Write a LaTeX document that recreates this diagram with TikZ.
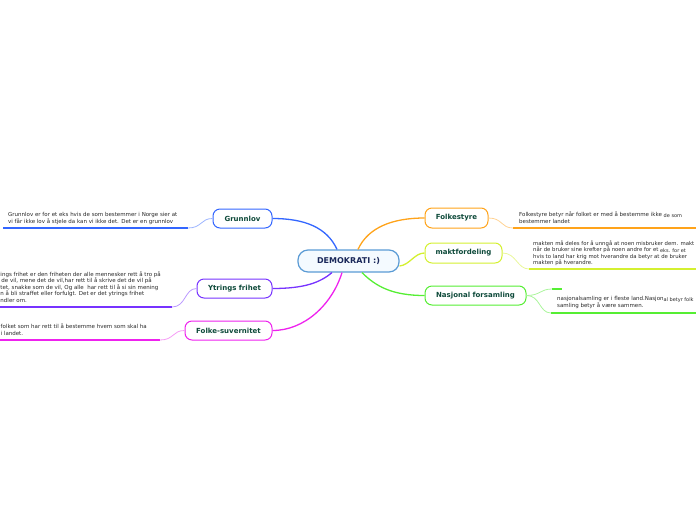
\documentclass[tikz,border=0pt]{standalone}
\usepackage{fontspec}
\setmainfont{DejaVu Sans}
\definecolor{cblue}{RGB}{51,102,255}
\definecolor{cbluel}{RGB}{157,181,255}
\definecolor{cpurp}{RGB}{119,51,255}
\definecolor{cpurpl}{RGB}{187,153,255}
\definecolor{cmag}{RGB}{238,34,238}
\definecolor{cmagl}{RGB}{245,156,245}
\definecolor{corange}{RGB}{255,163,26}
\definecolor{corangel}{RGB}{255,211,148}
\definecolor{cyel}{RGB}{212,240,48}
\definecolor{cyell}{RGB}{233,247,154}
\definecolor{cgreen}{RGB}{85,238,51}
\definecolor{cgreenl}{RGB}{171,245,156}
\definecolor{ccent}{RGB}{91,155,213}
\definecolor{ctopic}{RGB}{14,74,58}
\definecolor{cnote}{RGB}{40,40,40}
\tikzset{
  topic/.style={draw, line width=1pt, rounded corners=7pt, fill=white, inner sep=0pt,
    font=\fontsize{7}{8}\selectfont\bfseries, text=ctopic, minimum height=19pt},
  central/.style={draw=ccent, line width=1.2pt, rounded corners=10pt, fill={rgb,255:red,244;green,250;blue,255},
    inner sep=0pt, font=\fontsize{8}{9}\selectfont\bfseries, text={rgb,255:red,26;green,40;blue,90},
    minimum width=101pt, minimum height=22pt},
  note/.style={anchor=north west, inner sep=0pt, align=left, text=cnote,
    font=\fontsize{5.5}{6.6}\selectfont},
  branch/.style={line width=1.3pt},
  twig/.style={line width=0.8pt},
  uline/.style={line width=2pt},
}
\newcommand{\smt}[1]{{\fontsize{5}{6.6}\selectfont\raisebox{-0.5pt}{#1}}}
\begin{document}
\begin{tikzpicture}[x=1pt,y=-1pt]
\clip (0,0) rectangle (696,520);
\useasboundingbox (0,0) rectangle (696,520);

% central
\node[central] (c) at (348.5,261) {DEMOKRATI :)};

% topics
\node[topic, draw=cblue, minimum width=59pt] (g) at (242.5,218.5) {Grunnlov};
\node[topic, draw=cpurp, minimum width=75pt] (y) at (234.5,288.5) {Ytrings frihet};
\node[topic, draw=cmag, minimum width=87pt] (fs) at (228.5,330.5) {Folke-suvernitet};
\node[topic, draw=corange, minimum width=63pt, minimum height=20pt] (f) at (456.5,218) {Folkestyre};
\node[topic, draw=cyel, minimum width=77pt, minimum height=20pt] (m) at (463.5,253) {maktfordeling};
\node[topic, draw=cgreen, minimum width=101pt] (n) at (475.5,295.5) {Nasjonal forsamling};

% branches from centre
\draw[branch, cblue] ([xshift=-11.5pt]c.north) .. controls +(-10,-22) and +(32,0) .. (g.east);
\draw[branch, corange] ([xshift=9.5pt]c.north) .. controls +(10,-22) and +(-32,0) .. (f.west);
\draw[branch, cyel] ([yshift=-5pt]c.east) .. controls +(10,-1) and +(-10,0) .. (m.west);
\draw[branch, cgreen] ([xshift=13.5pt]c.south) .. controls +(14,14) and +(-32,0) .. (n.west);
\draw[branch, cpurp] ([xshift=-16.5pt]c.south) .. controls +(-12,10) and +(32,0) .. (y.east);
\draw[branch, cmag] ([xshift=-6.5pt]c.south) .. controls +(-10,32) and +(32,0) .. (fs.east);

% Grunnlov note
\coordinate (gl) at (3,228);
\coordinate (gr) at (188,228);
\draw[uline, draw=cblue] (gl) -- (gr);
\draw[twig, draw=cbluel] (gr) .. controls +(14,0) and +(-12,0) .. (g.west);
\node[note] (gt) at (8,212.3) {Grunnlov er for et eks hvis de som bestemmer i Norge sier at\\vi får ikke lov å stjele da kan vi ikke det. Det er en grunnlov};

% Ytrings note
\coordinate (yl) at (0,307);
\coordinate (yr) at (172,307);
\draw[uline, draw=cpurp] (yl) -- (yr);
\draw[twig, draw=cpurpl] (yr) .. controls +(14,0) and +(-12,0) .. (y.west);
\node[note] (yt) at (0.3,271) {ings frihet er den friheten der alle mennesker rett å tro på\\
\,de vil, mene det de vil,har rett til å skrive det de vil på\\
tet, snakke som de vil, Og alle\ \ har rett til å si sin mening\\
n å bli straffet eller forfulgt. Det er det ytrings frihet\\
ndler om.};

% Folke-suvernitet note
\coordinate (fsl) at (0,340);
\coordinate (fsr) at (160,340);
\draw[uline, draw=cmag] (fsl) -- (fsr);
\draw[twig, draw=cmagl] (fsr) .. controls +(14,0) and +(-12,0) .. (fs.west);
\node[note] (fst) at (0.5,323.7) {folket som har rett til å bestemme hvem som skal ha\\i landet.};

% Folkestyre note
\coordinate (fl) at (513,228);
\coordinate (fr) at (696,228);
\draw[uline, draw=corange] (fl) -- (fr);
\draw[twig, draw=corangel] (f.east) .. controls +(14,0) and +(-12,0) .. (fl);
\node[note] (ft) at (519,211.5) {Folkestyre betyr når folket er med å bestemme ikke \smt{de som}\\bestemmer landet};

% maktfordeling note
\coordinate (ml) at (529,269);
\coordinate (mr) at (696,269);
\draw[uline, draw=cyel] (ml) -- (mr);
\draw[twig, draw=cyell] (m.east) .. controls +(14,0) and +(-12,0) .. (ml);
\node[note, font=\fontsize{5.35}{6.6}\selectfont] (mt) at (533,240.2) {makten må deles for å unngå at noen misbruker dem. makt\\
når de bruker sine krefter på noen andre for et \smt{eks. for et}\\
hvis to land har krig mot hverandre da betyr at de bruker\\
makten på hverandre.};

% Nasjonal forsamling notes
\coordinate (ns1) at (552,289);
\coordinate (ns2) at (562,289);
\draw[uline, draw=cgreen] (ns1) -- (ns2);
\draw[twig, draw=cgreenl] (n.east) .. controls +(14,0) and +(-12,0) .. (ns1);
\coordinate (nl) at (551,313);
\coordinate (nr) at (696,313);
\draw[uline, draw=cgreen] (nl) -- (nr);
\draw[twig, draw=cgreenl] (n.east) .. controls +(14,0) and +(-12,0) .. (nl);
\node[note] (nt) at (557,296.5) {nasjonalsamling er i fleste land.Nasjon\smt{al betyr folk}\\samling betyr å være sammen.};
\end{tikzpicture}
\end{document}
